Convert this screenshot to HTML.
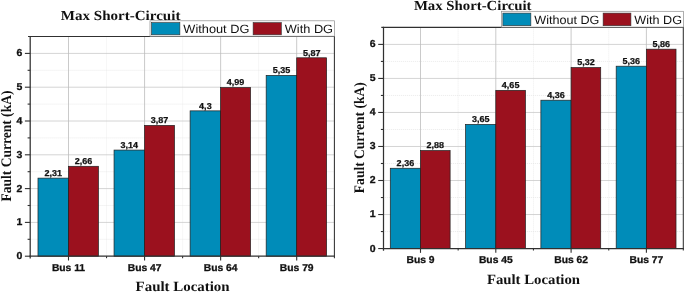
<!DOCTYPE html>
<html><head><meta charset="utf-8"><title>Max Short-Circuit</title>
<style>
html,body{margin:0;padding:0;background:#fff;}
body{width:685px;height:292px;overflow:hidden;}
svg{display:block;}
text{fill:#111;text-rendering:geometricPrecision;}
.ti{font-family:"Liberation Serif",serif;font-weight:bold;font-size:13.8px;}
.at{font-family:"Liberation Serif",serif;font-weight:bold;font-size:14px;}
.tl{font-family:"Liberation Sans",sans-serif;font-weight:bold;font-size:10px;stroke:#111;stroke-width:0.3px;}
.xl{font-family:"Liberation Sans",sans-serif;font-weight:bold;font-size:10px;stroke:#111;stroke-width:0.3px;}
.dl{font-family:"Liberation Sans",sans-serif;font-weight:bold;font-size:8.6px;stroke:#111;stroke-width:0.25px;}
.lg{font-family:"Liberation Sans",sans-serif;font-size:12px;}
</style></head><body>
<svg width="685" height="292" viewBox="0 0 685 292">
<rect width="685" height="292" fill="#fff"/>
<line x1="30.47" y1="239.30" x2="334.40" y2="239.30" stroke="#dcdcdc" stroke-width="0.6" stroke-dasharray="1 1"/>
<line x1="30.47" y1="205.50" x2="334.40" y2="205.50" stroke="#dcdcdc" stroke-width="0.6" stroke-dasharray="1 1"/>
<line x1="30.47" y1="171.70" x2="334.40" y2="171.70" stroke="#dcdcdc" stroke-width="0.6" stroke-dasharray="1 1"/>
<line x1="30.47" y1="137.90" x2="334.40" y2="137.90" stroke="#dcdcdc" stroke-width="0.6" stroke-dasharray="1 1"/>
<line x1="30.47" y1="104.10" x2="334.40" y2="104.10" stroke="#dcdcdc" stroke-width="0.6" stroke-dasharray="1 1"/>
<line x1="30.47" y1="70.30" x2="334.40" y2="70.30" stroke="#dcdcdc" stroke-width="0.6" stroke-dasharray="1 1"/>
<line x1="106.53" y1="36.50" x2="106.53" y2="256.20" stroke="#e2e2e2" stroke-width="0.6" stroke-dasharray="1 1"/>
<line x1="182.60" y1="36.50" x2="182.60" y2="256.20" stroke="#e2e2e2" stroke-width="0.6" stroke-dasharray="1 1"/>
<line x1="258.66" y1="36.50" x2="258.66" y2="256.20" stroke="#e2e2e2" stroke-width="0.6" stroke-dasharray="1 1"/>
<line x1="30.47" y1="222.40" x2="334.40" y2="222.40" stroke="#c6c6c6" stroke-width="0.75"/>
<line x1="30.47" y1="188.60" x2="334.40" y2="188.60" stroke="#c6c6c6" stroke-width="0.75"/>
<line x1="30.47" y1="154.80" x2="334.40" y2="154.80" stroke="#c6c6c6" stroke-width="0.75"/>
<line x1="30.47" y1="121.00" x2="334.40" y2="121.00" stroke="#c6c6c6" stroke-width="0.75"/>
<line x1="30.47" y1="87.20" x2="334.40" y2="87.20" stroke="#c6c6c6" stroke-width="0.75"/>
<line x1="30.47" y1="53.40" x2="334.40" y2="53.40" stroke="#c6c6c6" stroke-width="0.75"/>
<line x1="68.50" y1="36.50" x2="68.50" y2="256.20" stroke="#bcbcbc" stroke-width="0.8"/>
<line x1="144.57" y1="36.50" x2="144.57" y2="256.20" stroke="#bcbcbc" stroke-width="0.8"/>
<line x1="220.63" y1="36.50" x2="220.63" y2="256.20" stroke="#bcbcbc" stroke-width="0.8"/>
<line x1="296.70" y1="36.50" x2="296.70" y2="256.20" stroke="#bcbcbc" stroke-width="0.8"/>
<rect x="37.98" y="178.12" width="30.53" height="78.08" fill="#008cb9" stroke="#202020" stroke-width="0.7"/>
<text transform="translate(53.24,175.92) scale(1.0500,1)" text-anchor="middle" class="dl">2,31</text>
<rect x="68.50" y="166.29" width="29.93" height="89.91" fill="#9b111e" stroke="#202020" stroke-width="0.7"/>
<text transform="translate(83.47,164.09) scale(1.0500,1)" text-anchor="middle" class="dl">2,66</text>
<rect x="114.04" y="150.07" width="30.53" height="106.13" fill="#008cb9" stroke="#202020" stroke-width="0.7"/>
<text transform="translate(129.30,147.87) scale(1.0500,1)" text-anchor="middle" class="dl">3,14</text>
<rect x="144.57" y="125.39" width="29.93" height="130.81" fill="#9b111e" stroke="#202020" stroke-width="0.7"/>
<text transform="translate(159.53,123.19) scale(1.0500,1)" text-anchor="middle" class="dl">3,87</text>
<rect x="190.11" y="110.86" width="30.53" height="145.34" fill="#008cb9" stroke="#202020" stroke-width="0.7"/>
<text transform="translate(205.37,108.66) scale(1.0500,1)" text-anchor="middle" class="dl">4,3</text>
<rect x="220.63" y="87.54" width="29.93" height="168.66" fill="#9b111e" stroke="#202020" stroke-width="0.7"/>
<text transform="translate(235.60,85.34) scale(1.0500,1)" text-anchor="middle" class="dl">4,99</text>
<rect x="266.17" y="75.37" width="30.53" height="180.83" fill="#008cb9" stroke="#202020" stroke-width="0.7"/>
<text transform="translate(281.43,73.17) scale(1.0500,1)" text-anchor="middle" class="dl">5,35</text>
<rect x="296.70" y="57.79" width="29.93" height="198.41" fill="#9b111e" stroke="#202020" stroke-width="0.7"/>
<text transform="translate(311.66,55.59) scale(1.0500,1)" text-anchor="middle" class="dl">5,87</text>
<line x1="30.20" y1="35.90" x2="30.20" y2="258.40" stroke="#303030" stroke-width="1.25"/>
<line x1="28.00" y1="36.50" x2="335.00" y2="36.50" stroke="#303030" stroke-width="1.2"/>
<line x1="334.40" y1="36.50" x2="334.40" y2="258.20" stroke="#303030" stroke-width="1.05"/>
<line x1="29.50" y1="256.20" x2="335.00" y2="256.20" stroke="#303030" stroke-width="1.3"/>
<line x1="24.90" y1="256.20" x2="30.20" y2="256.20" stroke="#303030" stroke-width="1.1"/>
<text transform="translate(22.30,259.15) scale(1.0500,1)" text-anchor="end" class="tl">0</text>
<line x1="27.60" y1="239.30" x2="30.20" y2="239.30" stroke="#303030" stroke-width="1.1"/>
<line x1="24.90" y1="222.40" x2="30.20" y2="222.40" stroke="#303030" stroke-width="1.1"/>
<text transform="translate(22.30,225.35) scale(1.0500,1)" text-anchor="end" class="tl">1</text>
<line x1="27.60" y1="205.50" x2="30.20" y2="205.50" stroke="#303030" stroke-width="1.1"/>
<line x1="24.90" y1="188.60" x2="30.20" y2="188.60" stroke="#303030" stroke-width="1.1"/>
<text transform="translate(22.30,191.55) scale(1.0500,1)" text-anchor="end" class="tl">2</text>
<line x1="27.60" y1="171.70" x2="30.20" y2="171.70" stroke="#303030" stroke-width="1.1"/>
<line x1="24.90" y1="154.80" x2="30.20" y2="154.80" stroke="#303030" stroke-width="1.1"/>
<text transform="translate(22.30,157.75) scale(1.0500,1)" text-anchor="end" class="tl">3</text>
<line x1="27.60" y1="137.90" x2="30.20" y2="137.90" stroke="#303030" stroke-width="1.1"/>
<line x1="24.90" y1="121.00" x2="30.20" y2="121.00" stroke="#303030" stroke-width="1.1"/>
<text transform="translate(22.30,123.95) scale(1.0500,1)" text-anchor="end" class="tl">4</text>
<line x1="27.60" y1="104.10" x2="30.20" y2="104.10" stroke="#303030" stroke-width="1.1"/>
<line x1="24.90" y1="87.20" x2="30.20" y2="87.20" stroke="#303030" stroke-width="1.1"/>
<text transform="translate(22.30,90.15) scale(1.0500,1)" text-anchor="end" class="tl">5</text>
<line x1="27.60" y1="70.30" x2="30.20" y2="70.30" stroke="#303030" stroke-width="1.1"/>
<line x1="24.90" y1="53.40" x2="30.20" y2="53.40" stroke="#303030" stroke-width="1.1"/>
<text transform="translate(22.30,56.35) scale(1.0500,1)" text-anchor="end" class="tl">6</text>
<line x1="68.50" y1="256.20" x2="68.50" y2="260.50" stroke="#303030" stroke-width="1.1"/>
<text transform="translate(68.50,271.00) scale(1.0300,1)" text-anchor="middle" class="xl">Bus 11</text>
<line x1="144.57" y1="256.20" x2="144.57" y2="260.50" stroke="#303030" stroke-width="1.1"/>
<text transform="translate(144.57,271.00) scale(1.0300,1)" text-anchor="middle" class="xl">Bus 47</text>
<line x1="220.63" y1="256.20" x2="220.63" y2="260.50" stroke="#303030" stroke-width="1.1"/>
<text transform="translate(220.63,271.00) scale(1.0300,1)" text-anchor="middle" class="xl">Bus 64</text>
<line x1="296.70" y1="256.20" x2="296.70" y2="260.50" stroke="#303030" stroke-width="1.1"/>
<text transform="translate(296.70,271.00) scale(1.0300,1)" text-anchor="middle" class="xl">Bus 79</text>
<line x1="106.53" y1="256.20" x2="106.53" y2="258.20" stroke="#303030" stroke-width="1.1"/>
<line x1="182.60" y1="256.20" x2="182.60" y2="258.20" stroke="#303030" stroke-width="1.1"/>
<line x1="258.66" y1="256.20" x2="258.66" y2="258.20" stroke="#303030" stroke-width="1.1"/>
<text transform="translate(60.80,19.70) scale(1.0900,1)" text-anchor="start" class="ti">Max Short-Circuit</text>
<text transform="translate(182.60,291.00) scale(1.0650,1)" text-anchor="middle" class="at">Fault Location</text>
<text transform="translate(11.00,146.05) rotate(-90) scale(0.966,1.04)" text-anchor="middle" class="at">Fault Current (kA)</text>
<rect x="150.00" y="20.80" width="184.60" height="15.40" fill="#fff" stroke="#8c8c8c" stroke-width="0.7"/>
<rect x="151.50" y="22.60" width="28.38" height="12.20" fill="#008cb9" stroke="#303030" stroke-width="0.6"/>
<text transform="translate(183.37,33.00) scale(1.0641,1)" text-anchor="start" class="lg">Without DG</text>
<rect x="253.12" y="22.60" width="28.18" height="12.20" fill="#9b111e" stroke="#303030" stroke-width="0.6"/>
<text transform="translate(284.79,33.00) scale(1.0641,1)" text-anchor="start" class="lg">With DG</text>
<line x1="382.85" y1="231.54" x2="683.30" y2="231.54" stroke="#dcdcdc" stroke-width="0.6" stroke-dasharray="1 1"/>
<line x1="382.85" y1="197.52" x2="683.30" y2="197.52" stroke="#dcdcdc" stroke-width="0.6" stroke-dasharray="1 1"/>
<line x1="382.85" y1="163.49" x2="683.30" y2="163.49" stroke="#dcdcdc" stroke-width="0.6" stroke-dasharray="1 1"/>
<line x1="382.85" y1="129.47" x2="683.30" y2="129.47" stroke="#dcdcdc" stroke-width="0.6" stroke-dasharray="1 1"/>
<line x1="382.85" y1="95.45" x2="683.30" y2="95.45" stroke="#dcdcdc" stroke-width="0.6" stroke-dasharray="1 1"/>
<line x1="382.85" y1="61.42" x2="683.30" y2="61.42" stroke="#dcdcdc" stroke-width="0.6" stroke-dasharray="1 1"/>
<line x1="458.15" y1="27.40" x2="458.15" y2="248.55" stroke="#e2e2e2" stroke-width="0.6" stroke-dasharray="1 1"/>
<line x1="533.45" y1="27.40" x2="533.45" y2="248.55" stroke="#e2e2e2" stroke-width="0.6" stroke-dasharray="1 1"/>
<line x1="608.75" y1="27.40" x2="608.75" y2="248.55" stroke="#e2e2e2" stroke-width="0.6" stroke-dasharray="1 1"/>
<line x1="382.85" y1="214.53" x2="683.30" y2="214.53" stroke="#c6c6c6" stroke-width="0.75"/>
<line x1="382.85" y1="180.50" x2="683.30" y2="180.50" stroke="#c6c6c6" stroke-width="0.75"/>
<line x1="382.85" y1="146.48" x2="683.30" y2="146.48" stroke="#c6c6c6" stroke-width="0.75"/>
<line x1="382.85" y1="112.46" x2="683.30" y2="112.46" stroke="#c6c6c6" stroke-width="0.75"/>
<line x1="382.85" y1="78.43" x2="683.30" y2="78.43" stroke="#c6c6c6" stroke-width="0.75"/>
<line x1="382.85" y1="44.41" x2="683.30" y2="44.41" stroke="#c6c6c6" stroke-width="0.75"/>
<line x1="420.50" y1="27.40" x2="420.50" y2="248.55" stroke="#bcbcbc" stroke-width="0.8"/>
<line x1="495.80" y1="27.40" x2="495.80" y2="248.55" stroke="#bcbcbc" stroke-width="0.8"/>
<line x1="571.10" y1="27.40" x2="571.10" y2="248.55" stroke="#bcbcbc" stroke-width="0.8"/>
<line x1="646.40" y1="27.40" x2="646.40" y2="248.55" stroke="#bcbcbc" stroke-width="0.8"/>
<rect x="390.28" y="168.26" width="30.22" height="80.29" fill="#008cb9" stroke="#202020" stroke-width="0.7"/>
<text transform="translate(405.39,166.06) scale(1.0500,1)" text-anchor="middle" class="dl">2,36</text>
<rect x="420.50" y="150.56" width="29.62" height="97.99" fill="#9b111e" stroke="#202020" stroke-width="0.7"/>
<text transform="translate(435.31,148.36) scale(1.0500,1)" text-anchor="middle" class="dl">2,88</text>
<rect x="465.58" y="124.37" width="30.22" height="124.18" fill="#008cb9" stroke="#202020" stroke-width="0.7"/>
<text transform="translate(480.69,122.17) scale(1.0500,1)" text-anchor="middle" class="dl">3,65</text>
<rect x="495.80" y="90.34" width="29.62" height="158.21" fill="#9b111e" stroke="#202020" stroke-width="0.7"/>
<text transform="translate(510.61,88.14) scale(1.0500,1)" text-anchor="middle" class="dl">4,65</text>
<rect x="540.88" y="100.21" width="30.22" height="148.34" fill="#008cb9" stroke="#202020" stroke-width="0.7"/>
<text transform="translate(555.99,98.01) scale(1.0500,1)" text-anchor="middle" class="dl">4,36</text>
<rect x="571.10" y="67.55" width="29.62" height="181.00" fill="#9b111e" stroke="#202020" stroke-width="0.7"/>
<text transform="translate(585.91,65.35) scale(1.0500,1)" text-anchor="middle" class="dl">5,32</text>
<rect x="616.18" y="66.19" width="30.22" height="182.36" fill="#008cb9" stroke="#202020" stroke-width="0.7"/>
<text transform="translate(631.29,63.99) scale(1.0500,1)" text-anchor="middle" class="dl">5,36</text>
<rect x="646.40" y="49.17" width="29.62" height="199.38" fill="#9b111e" stroke="#202020" stroke-width="0.7"/>
<text transform="translate(661.21,46.97) scale(1.0500,1)" text-anchor="middle" class="dl">5,86</text>
<line x1="383.50" y1="26.80" x2="383.50" y2="250.75" stroke="#303030" stroke-width="1.25"/>
<line x1="381.30" y1="27.40" x2="683.90" y2="27.40" stroke="#303030" stroke-width="1.2"/>
<line x1="683.30" y1="27.40" x2="683.30" y2="250.55" stroke="#303030" stroke-width="1.05"/>
<line x1="382.80" y1="248.55" x2="683.90" y2="248.55" stroke="#303030" stroke-width="1.3"/>
<line x1="378.20" y1="248.55" x2="383.50" y2="248.55" stroke="#303030" stroke-width="1.1"/>
<text transform="translate(375.60,251.50) scale(1.0500,1)" text-anchor="end" class="tl">0</text>
<line x1="380.90" y1="231.54" x2="383.50" y2="231.54" stroke="#303030" stroke-width="1.1"/>
<line x1="378.20" y1="214.53" x2="383.50" y2="214.53" stroke="#303030" stroke-width="1.1"/>
<text transform="translate(375.60,217.48) scale(1.0500,1)" text-anchor="end" class="tl">1</text>
<line x1="380.90" y1="197.52" x2="383.50" y2="197.52" stroke="#303030" stroke-width="1.1"/>
<line x1="378.20" y1="180.50" x2="383.50" y2="180.50" stroke="#303030" stroke-width="1.1"/>
<text transform="translate(375.60,183.45) scale(1.0500,1)" text-anchor="end" class="tl">2</text>
<line x1="380.90" y1="163.49" x2="383.50" y2="163.49" stroke="#303030" stroke-width="1.1"/>
<line x1="378.20" y1="146.48" x2="383.50" y2="146.48" stroke="#303030" stroke-width="1.1"/>
<text transform="translate(375.60,149.43) scale(1.0500,1)" text-anchor="end" class="tl">3</text>
<line x1="380.90" y1="129.47" x2="383.50" y2="129.47" stroke="#303030" stroke-width="1.1"/>
<line x1="378.20" y1="112.46" x2="383.50" y2="112.46" stroke="#303030" stroke-width="1.1"/>
<text transform="translate(375.60,115.41) scale(1.0500,1)" text-anchor="end" class="tl">4</text>
<line x1="380.90" y1="95.45" x2="383.50" y2="95.45" stroke="#303030" stroke-width="1.1"/>
<line x1="378.20" y1="78.43" x2="383.50" y2="78.43" stroke="#303030" stroke-width="1.1"/>
<text transform="translate(375.60,81.38) scale(1.0500,1)" text-anchor="end" class="tl">5</text>
<line x1="380.90" y1="61.42" x2="383.50" y2="61.42" stroke="#303030" stroke-width="1.1"/>
<line x1="378.20" y1="44.41" x2="383.50" y2="44.41" stroke="#303030" stroke-width="1.1"/>
<text transform="translate(375.60,47.36) scale(1.0500,1)" text-anchor="end" class="tl">6</text>
<line x1="420.50" y1="248.55" x2="420.50" y2="252.85" stroke="#303030" stroke-width="1.1"/>
<text transform="translate(420.50,262.95) scale(1.0300,1)" text-anchor="middle" class="xl">Bus 9</text>
<line x1="495.80" y1="248.55" x2="495.80" y2="252.85" stroke="#303030" stroke-width="1.1"/>
<text transform="translate(495.80,262.95) scale(1.0300,1)" text-anchor="middle" class="xl">Bus 45</text>
<line x1="571.10" y1="248.55" x2="571.10" y2="252.85" stroke="#303030" stroke-width="1.1"/>
<text transform="translate(571.10,262.95) scale(1.0300,1)" text-anchor="middle" class="xl">Bus 62</text>
<line x1="646.40" y1="248.55" x2="646.40" y2="252.85" stroke="#303030" stroke-width="1.1"/>
<text transform="translate(646.40,262.95) scale(1.0300,1)" text-anchor="middle" class="xl">Bus 77</text>
<line x1="458.15" y1="248.55" x2="458.15" y2="250.55" stroke="#303030" stroke-width="1.1"/>
<line x1="533.45" y1="248.55" x2="533.45" y2="250.55" stroke="#303030" stroke-width="1.1"/>
<line x1="608.75" y1="248.55" x2="608.75" y2="250.55" stroke="#303030" stroke-width="1.1"/>
<text transform="translate(413.90,10.10) scale(1.0720,1)" text-anchor="start" class="ti">Max Short-Circuit</text>
<text transform="translate(533.45,283.80) scale(1.0550,1)" text-anchor="middle" class="at">Fault Location</text>
<text transform="translate(364.30,137.67) rotate(-90) scale(0.966,1.04)" text-anchor="middle" class="at">Fault Current (kA)</text>
<rect x="501.40" y="11.30" width="182.10" height="15.80" fill="#fff" stroke="#8c8c8c" stroke-width="0.7"/>
<rect x="502.88" y="13.10" width="27.99" height="12.60" fill="#008cb9" stroke="#303030" stroke-width="0.6"/>
<text transform="translate(534.32,23.50) scale(1.0497,1)" text-anchor="start" class="lg">Without DG</text>
<rect x="603.12" y="13.10" width="27.80" height="12.60" fill="#9b111e" stroke="#303030" stroke-width="0.6"/>
<text transform="translate(634.37,23.50) scale(1.0497,1)" text-anchor="start" class="lg">With DG</text>
</svg>
</body></html>
